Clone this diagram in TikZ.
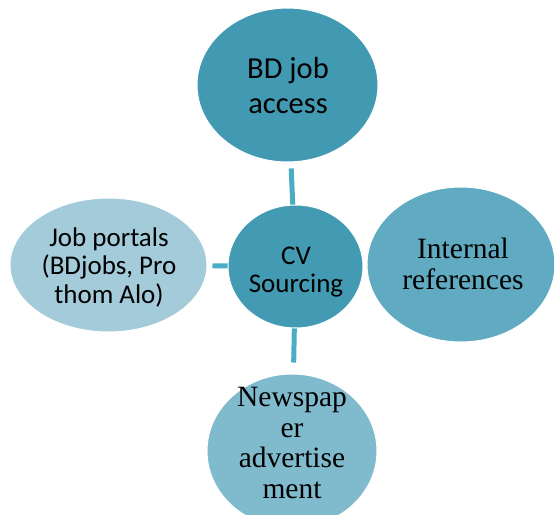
\documentclass[tikz,border=0pt]{standalone}
\usepackage{fontspec}
\setmainfont{Liberation Serif}
\newfontfamily\calib{Carlito}
\usetikzlibrary{shapes.geometric}
\definecolor{hubblue}{RGB}{67,155,179}
\definecolor{topblue}{RGB}{66,154,178}
\definecolor{rightblue}{RGB}{96,171,193}
\definecolor{leftblue}{RGB}{163,203,218}
\definecolor{bottomblue}{RGB}{128,186,205}
\definecolor{linkblue}{RGB}{75,172,198}
\tikzset{
  bubble/.style={ellipse, draw=white, line width=1pt, inner sep=0pt},
  caption/.style={inner sep=0pt, align=center, text=black},
  sansbig/.style={caption, font=\calib\fontsize{30.5}{35}\selectfont},
  sanshub/.style={caption, font=\calib\fontsize{27}{28}\selectfont},
  sansleft/.style={caption, font=\calib\fontsize{27}{28.5}\selectfont},
  seriftext/.style={caption, font=\fontsize{29.5}{30.5}\selectfont},
  link/.style={draw=linkblue, line width=5pt}
}
\begin{document}
\begin{tikzpicture}[x=1pt, y=-1pt]
\useasboundingbox (0,0) rectangle (554,514);

% outer bubbles
\node[bubble, fill=topblue, minimum width=181pt, minimum height=154pt] (access) at (287.5,85) {};
\node[bubble, fill=rightblue, minimum width=188pt, minimum height=155pt] (refs) at (461,264.5) {};
\node[bubble, fill=leftblue, minimum width=197pt, minimum height=134pt] (portals) at (108.5,265) {};
\node[bubble, fill=bottomblue, minimum width=170pt, minimum height=154pt] (paper) at (292,451) {};

% connectors, drawn before the hub so they tuck under it
\coordinate (hubc) at (295.5,266.5);
\draw[link, shorten <=6pt, shorten >=-2pt] (access) -- (hubc);
\draw[link, shorten <=5pt, shorten >=3pt] (portals) -- (hubc);
\draw[link, shorten <=4pt, shorten >=11pt] (hubc) -- (paper);

% central hub
\node[bubble, fill=hubblue, minimum width=135pt, minimum height=123pt] (hub) at (hubc) {};

% captions
\node[sansbig] (accesstext) at (288,86) {BD job\\access};
\node[sanshub] (hubtext) at (296,272) {CV\\Sourcing};
\node[sansleft] (portalstext) at (109,267) {Job portals\\(BDjobs, Pro\\thom Alo)};
\node[seriftext] (refstext) at (463,264) {Internal\\references};
\node[seriftext] (papertext) at (292,443) {Newspap\\er\\advertise\\ment};
\end{tikzpicture}
\end{document}
